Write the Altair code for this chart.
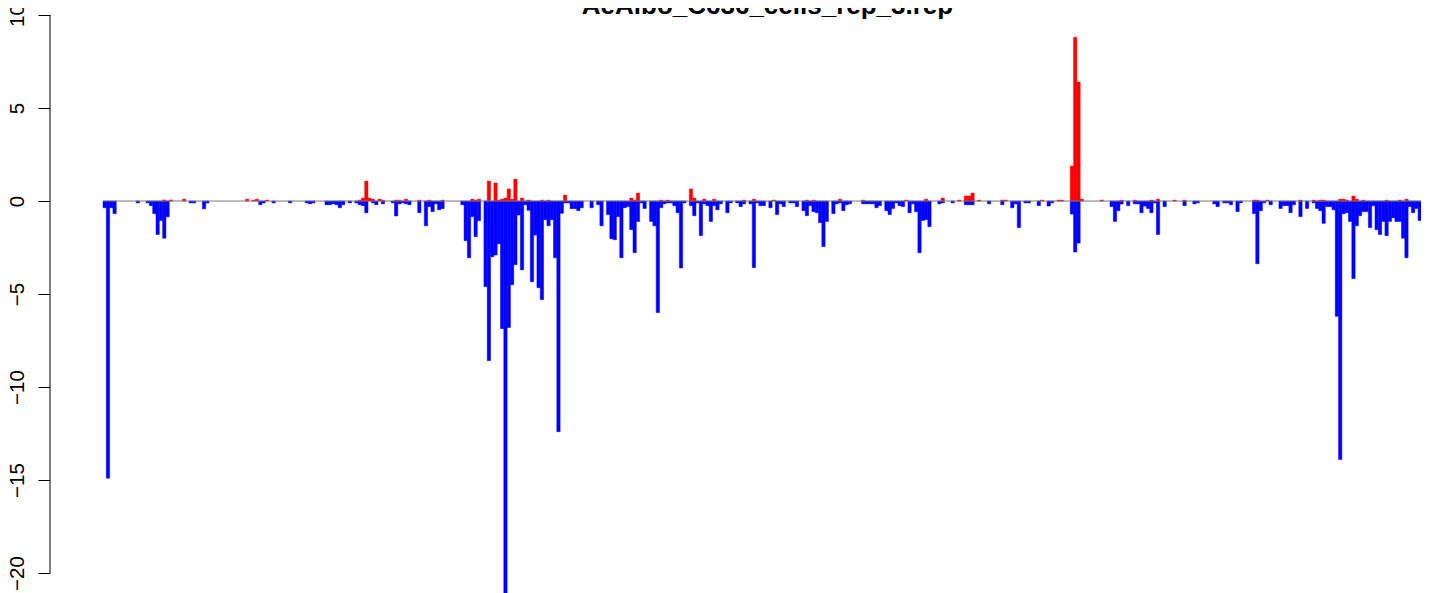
import altair as alt
import pandas as pd

TITLE = "AeAlbo_C636_cells_rep_3.rep"
N_BARS = 400
Y_TICKS = [-20, -15, -10, -5, 0, 5, 10]

# negative (blue) values by bar index
BLUE = {
    0: -0.36, 1: -14.9, 2: -0.36, 3: -0.68,
    10: -0.1, 13: -0.1, 14: -0.25, 15: -0.68, 16: -1.8, 17: -1.05, 18: -2.0, 19: -0.85,
    26: -0.1, 27: -0.1, 30: -0.42, 31: -0.1, 47: -0.2, 48: -0.1, 51: -0.1, 56: -0.1,
    61: -0.1, 62: -0.15, 63: -0.1, 67: -0.2, 68: -0.2,
    69: -0.15, 70: -0.2, 71: -0.36, 72: -0.2, 74: -0.1, 76: -0.1, 77: -0.2, 78: -0.25,
    79: -0.63, 81: -0.1, 82: -0.2, 84: -0.15, 87: -0.1, 88: -0.8, 89: -0.15, 90: -0.1,
    91: -0.15, 92: -0.2, 95: -0.63, 97: -1.33, 98: -0.3, 99: -0.57, 100: -0.15,
    101: -0.47, 102: -0.41,
    108: -0.2, 109: -2.13, 110: -3.05, 111: -0.84, 112: -1.92, 113: -1.06,
    115: -4.6, 116: -8.58, 117: -3.0, 118: -2.9, 119: -2.3, 120: -6.86, 121: -21.3,
    122: -6.8, 123: -4.5, 124: -3.42, 125: -0.75, 126: -3.7, 127: -0.2, 128: -0.5,
    129: -4.34, 130: -1.83, 131: -4.66, 132: -5.3, 133: -1.0, 134: -1.33, 135: -1.0,
    136: -3.05, 137: -12.4, 138: -0.66, 139: -0.1, 140: -0.1, 141: -0.41, 142: -0.41,
    143: -0.52, 144: -0.36, 147: -0.36, 149: -0.2,
    150: -1.33, 152: -0.73, 153: -2.03, 154: -2.08, 155: -0.84, 156: -3.05, 157: -0.36,
    158: -0.3, 159: -1.54, 160: -2.78, 161: -1.1, 162: -0.1, 163: -0.4, 165: -1.1,
    166: -1.33, 167: -6.0, 168: -0.36, 169: -0.15, 170: -0.1, 171: -0.1, 172: -0.25,
    173: -0.63, 174: -3.6, 175: -0.1, 177: -0.25, 178: -0.79, 179: -0.1, 180: -1.86,
    181: -0.15, 182: -0.25, 183: -1.1, 184: -0.25, 185: -0.47, 186: -0.15, 188: -0.63,
    189: -0.1, 191: -0.1, 192: -0.3, 193: -0.15, 195: -0.15, 196: -3.58, 197: -0.1,
    198: -0.25, 199: -0.25, 201: -0.36, 203: -0.73, 204: -0.15, 205: -0.3, 207: -0.1,
    208: -0.1, 209: -0.3, 211: -0.52, 212: -0.79, 213: -0.25, 214: -0.57, 215: -0.63,
    216: -1.16, 217: -2.45, 218: -1.1, 220: -0.68, 221: -0.15, 222: -0.1, 223: -0.52,
    224: -0.2, 225: -0.15, 229: -0.15, 230: -0.15, 231: -0.15, 232: -0.15, 233: -0.36,
    234: -0.25, 236: -0.52, 237: -0.73, 238: -0.4, 239: -0.1, 240: -0.25, 241: -0.3,
    243: -0.63, 244: -0.15, 245: -0.57, 246: -2.78, 247: -1.05, 248: -1.0, 249: -1.38,
    252: -0.15, 253: -0.1, 256: -0.1, 260: -0.2, 261: -0.2, 262: -0.2, 267: -0.15,
    271: -0.2, 274: -0.36, 275: -0.15, 276: -1.43, 278: -0.1, 279: -0.1, 282: -0.25,
    285: -0.27, 286: -0.1,
    292: -0.7, 293: -2.74, 294: -2.26,
    304: -0.3, 305: -1.1, 306: -0.52, 307: -0.16, 309: -0.25, 311: -0.15, 312: -0.15,
    313: -0.63, 314: -0.27, 315: -0.4, 316: -0.63, 317: -0.1, 318: -1.8, 320: -0.3,
    326: -0.25, 329: -0.15, 330: -0.1, 335: -0.15, 336: -0.3, 338: -0.1, 339: -0.1,
    340: -0.2, 342: -0.57, 343: -0.1, 347: -0.68, 348: -3.37, 349: -0.52, 350: -0.1,
    352: -0.2, 355: -0.4, 356: -0.25, 357: -0.25, 358: -0.63, 359: -0.2, 361: -0.84,
    363: -0.4, 365: -0.1, 366: -0.4, 367: -0.52, 368: -1.2, 369: -0.3, 370: -0.3,
    371: -0.47, 372: -6.2, 373: -13.9, 374: -0.68, 375: -0.63, 376: -1.1, 377: -4.17,
    378: -1.33, 379: -0.79, 380: -0.57, 381: -0.57, 382: -1.43, 383: -0.25, 384: -1.54,
    385: -1.8, 386: -1.1, 387: -1.86, 388: -1.1, 389: -0.9, 390: -1.1, 391: -1.1,
    392: -2.0, 393: -3.05, 394: -0.3, 395: -0.63, 396: -0.4, 397: -1.05, 398: -0.4,
    399: -1.05,
}

# positive (red) values by bar index
RED = {
    18: 0.06, 20: 0.06, 24: 0.1, 43: 0.1, 45: 0.05, 46: 0.1, 49: 0.05,
    77: 0.05, 78: 0.16, 79: 1.07, 80: 0.16, 81: 0.1, 83: 0.1, 84: 0.05, 88: 0.05,
    89: 0.05, 91: 0.1, 95: 0.05, 98: 0.05, 102: 0.05,
    111: 0.1, 112: 0.05, 113: 0.1, 116: 1.07, 118: 0.97, 119: 0.05, 120: 0.1,
    121: 0.16, 122: 0.65, 123: 0.1, 124: 1.18, 126: 0.16, 128: 0.05, 132: 0.05,
    134: 0.05, 139: 0.32,
    159: 0.16, 160: 0.05, 161: 0.43, 168: 0.05, 170: 0.05, 177: 0.65, 178: 0.16,
    181: 0.1, 184: 0.1, 193: 0.05, 196: 0.1, 202: 0.05, 212: 0.05, 214: 0.05,
    222: 0.1, 229: 0.05, 242: 0.05, 248: 0.1, 253: 0.16, 258: 0.05, 260: 0.27,
    261: 0.27, 262: 0.43, 264: 0.05, 271: 0.05, 272: 0.05, 283: 0.05, 288: 0.05,
    289: 0.05, 292: 1.88, 293: 8.8, 294: 6.4, 295: 0.1,
    301: 0.05, 307: 0.05, 311: 0.05, 316: 0.05, 318: 0.1, 323: 0.05, 326: 0.05,
    347: 0.05, 348: 0.05, 351: 0.05, 361: 0.05, 365: 0.05, 367: 0.05, 368: 0.05,
    373: 0.1, 374: 0.1, 375: 0.05, 377: 0.27, 378: 0.1, 380: 0.05, 387: 0.05,
    391: 0.05, 393: 0.1,
}

rows = []
for i in range(N_BARS):
    b = BLUE.get(i, 0.0)
    r = RED.get(i, 0.0)
    if b:
        rows.append({"i0": i, "i1": i + 1, "v": b, "s": "neg"})
    if r:
        rows.append({"i0": i, "i1": i + 1, "v": r, "s": "pos"})
df = pd.DataFrame(rows)

# plot area: 1371 px wide, 3.3125 px per bar, first bar 53 px from the axis
X_MAX = N_BARS - 7 / 3.3125
xs = alt.Scale(domain=[-16, X_MAX], nice=False, zero=False)
ys = alt.Scale(domain=[-21.5, 10], nice=False, zero=False)

colors = alt.Scale(domain=["neg", "pos"], range=["#0000FF", "#FF0000"])

bars = alt.Chart(df).mark_rect(strokeWidth=0.5, clip=True).encode(
    x=alt.X("i0:Q", scale=xs, axis=None),
    x2="i1:Q",
    y=alt.Y(
        "v:Q",
        scale=ys,
        axis=alt.Axis(
            values=Y_TICKS, domain=False, grid=False, tickSize=12, tickColor="black",
            tickWidth=1, labelFontSize=20.5, labelFont="Liberation Sans",
            labelAngle=270, labelAlign="center", labelBaseline="alphabetic",
            labelPadding=15, labelColor="black", title=None, format="d",
        ),
    ),
    y2=alt.datum(0),
    color=alt.Color("s:N", scale=colors, legend=None),
    stroke=alt.Stroke("s:N", scale=colors, legend=None),
)

base = alt.Chart(pd.DataFrame({"a": [0], "b": [N_BARS], "y": [0]})).mark_rule(
    color="#777777", strokeWidth=1, clip=True
).encode(x=alt.X("a:Q", scale=xs), x2="b:Q", y=alt.Y("y:Q", scale=ys))

yaxis_line = alt.Chart(pd.DataFrame({"top": [10], "bot": [-20]})).mark_rule(
    color="black", strokeWidth=1
).encode(x=alt.value(0), y=alt.Y("top:Q", scale=ys), y2="bot:Q")

title = alt.Chart(pd.DataFrame({"t": [TITLE]})).mark_text(
    font="Liberation Sans", fontSize=26, fontWeight="bold",
    baseline="alphabetic", align="center", color="black",
).encode(text="t:N", x=alt.value(717.5), y=alt.value(-1.5))

chart = alt.layer(bars, base, yaxis_line, title).properties(
    width=1371, height=586,
    autosize=alt.AutoSizeParams(type="none"),
    padding={"left": 42, "top": 7, "right": 0, "bottom": 0},
    background="white",
).configure_view(stroke=None)

chart.save("out.html", embed_options={"renderer": "svg", "actions": False})
